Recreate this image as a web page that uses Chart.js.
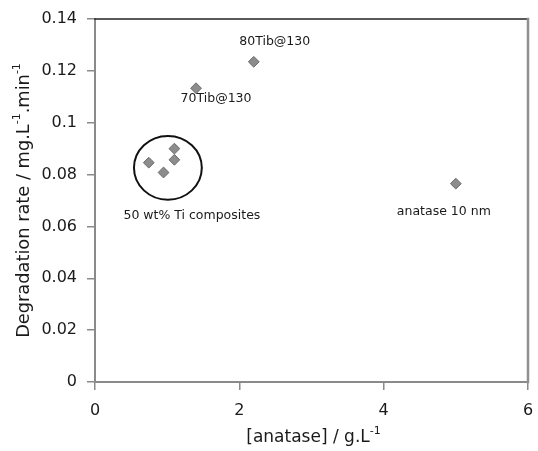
<!DOCTYPE html>
<html>
<head>
<meta charset="utf-8">
<script src="https://cdn.jsdelivr.net/npm/chart.js@4.4.1/dist/chart.umd.min.js"></script>
<style>
  html, body { margin: 0; padding: 0; background: #fff; }
  #wrap { width: 538px; height: 451px; }
</style>
</head>
<body>
<div id="wrap"><canvas id="c" width="538" height="451"></canvas></div>
<script>
// Photocatalyst samples: anatase concentration (g/L) vs degradation rate (mg/L/min)
const sampleNames = ['50Ti-a', '50Ti-b', '50Ti-c', '50Ti-d', '70Tib@130', '80Tib@130', 'anatase 10 nm'];
const anataseConc = [0.745, 0.95, 1.10, 1.10, 1.40, 2.20, 5.00];
const degradationRate = [0.0846, 0.0808, 0.0900, 0.0857, 0.1133, 0.1235, 0.0765];

const xTickLabels = ['0', '2', '4', '6'];
const yTickLabels = ['0', '0.02', '0.04', '0.06', '0.08', '0.1', '0.12', '0.14'];

// Text callouts, anchored to a sample (by name) or to the composites group
const calloutTexts = ['80Tib@130', '70Tib@130', 'anatase 10 nm', '50 wt% Ti composites'];
const calloutAnchors = ['80Tib@130', '70Tib@130', 'anatase 10 nm', 'group'];
// The four 50 wt% composites are ringed as one group
const groupCentre = { x: 1.01, y: 0.0826 };
const groupRadius = { x: 0.47, y: 0.0123 };

const FONT = '"DejaVu Sans", sans-serif';
const INK = '#1a1a1a';
const AXIS_GREY = '#8a8a8a';

// pixel offsets of each callout centre from its anchor
const calloutOffsets = [[21, -20], [20, 11], [-12, 28], [24, 48]];

function drawRich(ctx, parts, size) {
  let total = 0;
  for (const p of parts) {
    ctx.font = (p.sup ? Math.round(size * 0.62) : size) + 'px ' + FONT;
    p.w = ctx.measureText(p.t).width;
    total += p.w;
  }
  let x = -total / 2;
  for (const p of parts) {
    ctx.font = (p.sup ? Math.round(size * 0.62) : size) + 'px ' + FONT;
    ctx.fillText(p.t, x, p.sup ? -size * 0.38 : 0);
    x += p.w;
  }
}

const decorations = {
  id: 'decorations',
  afterDatasetsDraw(chart) {
    const { ctx, chartArea: a, scales: { x, y } } = chart;
    ctx.save();
    // top and right frame of the plot area
    ctx.lineCap = 'square';
    ctx.strokeStyle = '#222';
    ctx.lineWidth = 1.5;
    ctx.beginPath();
    ctx.moveTo(a.left, a.top);
    ctx.lineTo(a.right, a.top);
    ctx.stroke();
    ctx.strokeStyle = '#909090';
    ctx.lineWidth = 2.5;
    ctx.beginPath();
    ctx.moveTo(a.right, a.top);
    ctx.lineTo(a.right, a.bottom);
    ctx.stroke();

    // ring round the composites
    const cx = x.getPixelForValue(groupCentre.x);
    const cy = y.getPixelForValue(groupCentre.y);
    const rx = x.getPixelForValue(groupCentre.x + groupRadius.x) - cx;
    const ry = cy - y.getPixelForValue(groupCentre.y + groupRadius.y);
    ctx.strokeStyle = '#111';
    ctx.lineWidth = 2;
    ctx.beginPath();
    ctx.ellipse(cx, cy, rx, ry, 0, 0, Math.PI * 2);
    ctx.stroke();

    // callouts
    ctx.fillStyle = INK;
    ctx.font = '12.5px ' + FONT;
    ctx.textAlign = 'center';
    ctx.textBaseline = 'middle';
    calloutTexts.forEach((t, i) => {
      let px, py;
      if (calloutAnchors[i] === 'group') {
        px = cx; py = cy;
      } else {
        const k = sampleNames.indexOf(calloutAnchors[i]);
        px = x.getPixelForValue(anataseConc[k]);
        py = y.getPixelForValue(degradationRate[k]);
      }
      ctx.fillText(t, px + calloutOffsets[i][0], py + calloutOffsets[i][1]);
    });

    // axis titles with superscripts
    ctx.textAlign = 'left';
    ctx.textBaseline = 'middle';
    ctx.save();
    ctx.translate((a.left + a.right) / 2 + 2, 438);
    drawRich(ctx, [{ t: '[anatase] / g.L' }, { t: '-1', sup: true }], 17);
    ctx.restore();

    ctx.save();
    ctx.translate(24, (a.top + a.bottom) / 2);
    ctx.rotate(-Math.PI / 2);
    drawRich(ctx, [
      { t: 'Degradation rate / mg.L' }, { t: '-1', sup: true },
      { t: '.min' }, { t: '-1', sup: true }
    ], 17.8);
    ctx.restore();
    ctx.restore();
  }
};

new Chart(document.getElementById('c'), {
  type: 'scatter',
  data: {
    datasets: [{
      label: 'Degradation rate',
      data: anataseConc.map((v, i) => ({ x: v, y: degradationRate[i] })),
      pointStyle: 'rectRot',
      pointRadius: 5.4,
      pointHoverRadius: 5.4,
      backgroundColor: '#8c8c8c',
      borderColor: '#6a6a6a',
      borderWidth: 1
    }]
  },
  options: {
    responsive: false,
    animation: false,
    devicePixelRatio: 1,
    layout: { autoPadding: false, padding: { left: 0, right: 10, top: 19, bottom: 0 } },
    plugins: { legend: { display: false }, tooltip: { enabled: false }, title: { display: false } },
    scales: {
      x: {
        type: 'linear',
        min: 0, max: 6,
        afterBuildTicks(s) { s.ticks = xTickLabels.map(v => ({ value: Number(v) })); },
        afterFit(s) { s.height = 69; s.paddingLeft = 0; s.paddingRight = 0; },
        ticks: {
          callback: (v, i) => xTickLabels[i],
          color: INK, font: { family: FONT, size: 16 }, padding: 11, maxRotation: 0
        },
        grid: { drawOnChartArea: false, drawTicks: true, tickLength: 8, color: AXIS_GREY, lineWidth: 1.5 },
        border: { display: true, color: AXIS_GREY, width: 2 }
      },
      y: {
        type: 'linear',
        min: 0, max: 0.14,
        afterBuildTicks(s) { s.ticks = yTickLabels.map(v => ({ value: Number(v) })); },
        afterFit(s) { s.width = 95; s.paddingTop = 0; s.paddingBottom = 0; },
        ticks: {
          callback: (v, i) => yTickLabels[i],
          color: INK, font: { family: FONT, size: 16 }, padding: 10
        },
        grid: { drawOnChartArea: false, drawTicks: true, tickLength: 8, color: AXIS_GREY, lineWidth: 1.5 },
        border: { display: true, color: AXIS_GREY, width: 2 }
      }
    }
  },
  plugins: [decorations]
});
</script>
</body>
</html>
